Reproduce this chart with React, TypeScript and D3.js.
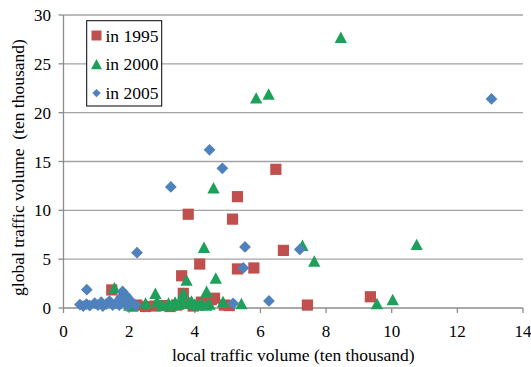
import React from "react";
import * as d3 from "d3";

const xTicks = [0, 2, 4, 6, 8, 10, 12, 14];
const yTicks = [0, 5, 10, 15, 20, 25, 30];

const seriesNames = ["in 1995", "in 2000", "in 2005"];
const seriesColors = ["#C0504D", "#1FA05A", "#4F81BD"];

const data1995: [number, number][] = [
  [1.47, 1.85], [2.23, 0.3], [2.5, 0.15], [2.8, 0.2], [3.0, 0.25], [3.25, 0.15], [3.45, 0.3],
  [3.6, 3.3], [3.65, 1.5], [3.75, 0.5], [3.8, 9.6], [3.95, 0.2], [4.15, 4.5], [4.2, 0.6],
  [4.5, 0.85], [4.6, 1.0], [4.9, 0.3], [5.05, 0.25], [5.15, 9.1], [5.3, 11.4], [5.3, 4.0],
  [5.8, 4.1], [6.47, 14.2], [6.7, 5.9], [7.43, 0.3], [9.35, 1.15],
];

const data2000: [number, number][] = [
  [1.55, 2.05], [2.0, 0.3], [2.1, 0.2], [2.5, 0.5], [2.8, 1.5], [2.85, 0.7], [3.0, 0.3],
  [3.2, 0.5], [3.3, 0.3], [3.4, 0.6], [3.5, 0.4], [3.6, 0.8], [3.65, 1.5], [3.75, 2.85],
  [3.8, 0.5], [3.9, 0.7], [4.0, 0.4], [4.1, 0.3], [4.2, 0.5], [4.28, 6.2], [4.36, 1.7],
  [4.35, 0.3], [4.45, 0.4], [4.57, 12.3], [4.64, 3.05], [4.86, 0.65], [5.42, 0.45],
  [5.87, 21.5], [6.25, 21.9], [7.28, 6.4], [7.64, 4.8], [8.45, 27.7], [9.55, 0.45],
  [10.03, 0.85], [10.76, 6.5],
];

const data2005: [number, number][] = [
  [0.5, 0.35], [0.6, 0.2], [0.7, 0.4], [0.71, 1.88], [0.8, 0.25], [0.95, 0.5], [1.05, 0.3],
  [1.15, 0.6], [1.2, 0.2], [1.3, 0.4], [1.4, 0.7], [1.5, 0.3], [1.6, 0.5], [1.7, 0.3],
  [1.75, 1.1], [1.8, 1.7], [1.85, 0.6], [1.9, 1.3], [1.95, 0.3], [2.0, 0.9], [2.1, 0.5],
  [2.2, 0.3], [2.24, 5.66], [3.27, 12.4], [4.45, 16.2], [4.84, 14.3], [5.17, 0.48],
  [5.48, 4.1], [5.53, 6.25], [6.26, 0.72], [7.2, 6.0], [13.04, 21.4],
];

const allSeries = [data1995, data2000, data2005];

const W = 531;
const H = 367;
const FONT = "'Liberation Serif', 'Times New Roman', serif";

function markerPath(kind: number, s: number): string {
  const h = s / 2;
  if (kind === 0) return `M${-h},${-h}H${h}V${h}H${-h}Z`;
  if (kind === 1) return `M0,${-h * 1.05}L${h * 1.1},${h}L${-h * 1.1},${h}Z`;
  const r = h * 1.05;
  return `M0,${-r}L${r},0L0,${r}L${-r},0Z`;
}

export default function App() {
  const x = d3.scaleLinear().domain([0, 14]).range([63.5, 523]);
  const y = d3.scaleLinear().domain([0, 30]).range([308, 15]);
  const [x0, x1] = x.range();

  return (
    <svg width={W} height={H} style={{ position: "absolute", left: 0, top: 0, background: "#fff" }} fontFamily={FONT}>
      <rect x={0} y={0} width={W} height={H} fill="#fff" />
      {yTicks.filter((t) => t > 0).map((t) => (
        <line key={"g" + t} x1={x0} x2={x1} y1={y(t)} y2={y(t)} stroke="#a3a3a3" strokeWidth={1.3} />
      ))}
      {/* axes */}
      <line x1={x0} x2={x0} y1={y(30)} y2={y(0)} stroke="#8c8c8c" strokeWidth={1.3} />
      <line x1={x0} x2={x1} y1={y(0)} y2={y(0)} stroke="#8c8c8c" strokeWidth={1.3} />
      {yTicks.map((t) => (
        <g key={"yt" + t}>
          <line x1={x0 - 5} x2={x0} y1={y(t)} y2={y(t)} stroke="#8c8c8c" strokeWidth={1.3} />
          <text x={51} y={y(t) + 6} textAnchor="end" fontSize={17} fill="#000">{t}</text>
        </g>
      ))}
      {xTicks.map((t) => (
        <g key={"xt" + t}>
          <line x1={x(t)} x2={x(t)} y1={y(0)} y2={y(0) + 5} stroke="#8c8c8c" strokeWidth={1.3} />
          <text x={x(t)} y={336.5} textAnchor="middle" fontSize={17} fill="#000">{t}</text>
        </g>
      ))}
      {/* markers */}
      {allSeries.map((ser, si) => (
        <g key={"s" + si} fill={seriesColors[si]}>
          {ser.map((d, i) => (
            <path key={i} transform={`translate(${x(d[0])},${y(d[1])})`} d={markerPath(si, 11.2)} />
          ))}
        </g>
      ))}
      {/* axis titles */}
      <text x={(x0 + x1) / 2} y={361} textAnchor="middle" fontSize={17.5} fill="#000">
        local traffic volume (ten thousand)
      </text>
      <text transform={`translate(24,${(y(30) + y(0)) / 2 + 6}) rotate(-90)`} textAnchor="middle" fontSize={17.5} fill="#000" style={{ whiteSpace: "pre" }}>
        {"global traffic volume  (ten thousand)"}
      </text>
      {/* legend */}
      <rect x={86.7} y={20.7} width={75} height={85.3} fill="#fff" stroke="#000" strokeWidth={1} />
      {seriesNames.map((n, i) => {
        const cy = 35.5 + i * 28.8;
        return (
          <g key={"l" + i}>
            <path transform={`translate(96.5,${cy})`} d={markerPath(i, i === 2 ? 8 : 10)} fill={seriesColors[i]} />
            <text x={105.5} y={cy + 6} fontSize={17.5} fill="#000">{n}</text>
          </g>
        );
      })}
    </svg>
  );
}
